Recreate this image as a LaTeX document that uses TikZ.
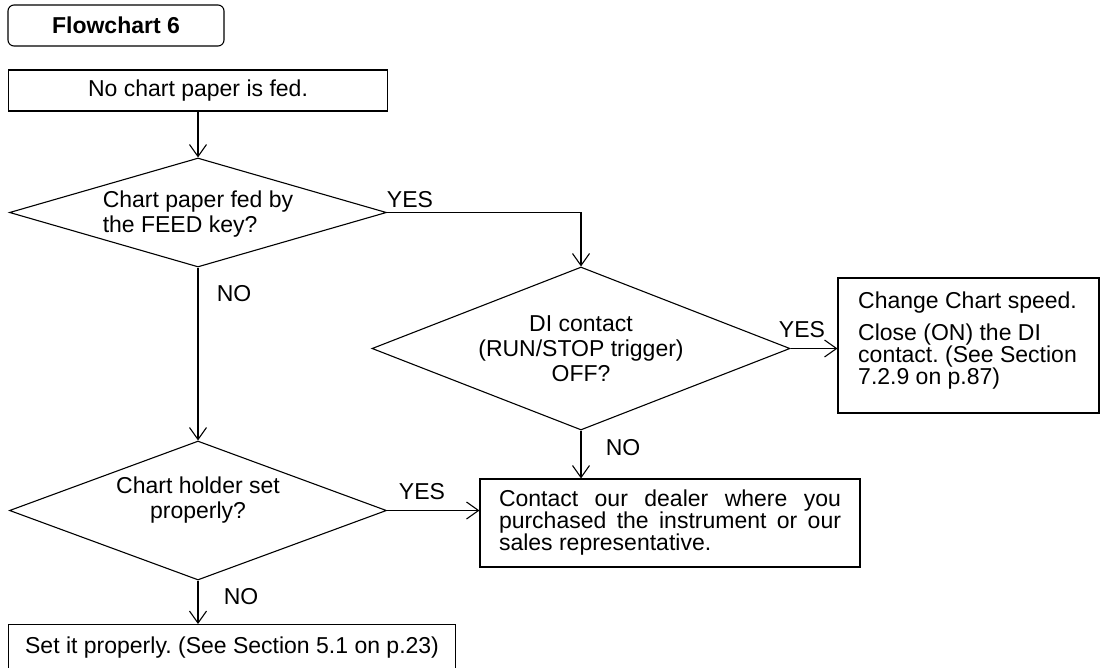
\documentclass[tikz,border=0pt]{standalone}
\usepackage{fontspec}
\setmainfont{Liberation Sans}
\usetikzlibrary{shapes.geometric,arrows.meta}
\frenchspacing
\begin{document}
\begin{tikzpicture}[x=1pt,y=-1pt,
  every node/.style={font=\fontsize{23}{25}\selectfont, inner sep=0pt},
  box/.style={draw, line width=1.1pt, rectangle},
  dia/.style={draw, line width=1.1pt, diamond, inner sep=0pt},
  conn/.style={line width=1.1pt, -{Straight Barb[length=12pt,width=17pt]}}
]
\useasboundingbox (0,0) rectangle (1105,667);

\node[box, rounded corners=6pt, minimum width=216pt, minimum height=41pt,
  font=\fontsize{23}{25}\selectfont\bfseries] (title) at (116,25.5) {Flowchart 6};

\node[box, minimum width=379pt, minimum height=41pt] (start) at (198,90.5) {No chart paper is fed.};

\node[dia, minimum width=377pt, minimum height=109pt] (d1) at (198,212.5) {};
\node[align=left] (t1) at (198,214) {Chart paper fed by\\the FEED key?};

\node[dia, minimum width=418pt, minimum height=163pt] (d2) at (581,348.5) {};
\node[align=center] (t2) at (581,349) {DI contact\\(RUN/STOP trigger)\\OFF?};

\node[dia, minimum width=377pt, minimum height=139pt] (d3) at (198,510.5) {};
\node[align=center] (t3) at (198,500) {Chart holder set\\properly?};

\node[box, minimum width=261pt, minimum height=135pt] (chg) at (968.5,345.5) {};
\node[align=left, anchor=north west, font=\fontsize{23}{22}\selectfont] (t4) at (858,292)
  {Change Chart speed.\\[10pt]Close (ON) the DI\\contact. (See Section\\7.2.9 on p.87)};

\node[box, minimum width=380pt, minimum height=88pt, text width=342pt, inner xsep=19pt,
  align=justify, font=\fontsize{23}{22}\selectfont] (contact) at (670,523)
  {Contact our dealer where you\linebreak purchased the instrument or our\linebreak sales representative.};

\node[box, minimum width=447pt, minimum height=46pt, anchor=north west] (set) at (8,624)
  {Set it properly. (See Section 5.1 on p.23)};

\node (y1) at (410,200) {YES};
\node (n1) at (234,294) {NO};
\node (y2) at (802,330) {YES};
\node (n2) at (623,448) {NO};
\node (y3) at (422,492) {YES};
\node (n3) at (241,597) {NO};

\draw[conn] (start) -- (d1);
\draw[conn] (d1.east) -| (d2.north);
\draw[conn] (d1.south) -- (d3.north);
\draw[conn] (d2.east) -- (d2.east -| chg.west);
\draw[conn] (d2.south) -- (d2.south |- contact.north);
\draw[conn] (d3.east) -- (d3.east -| contact.west);
\draw[conn] (d3.south) -- (d3.south |- set.north);
\end{tikzpicture}
\end{document}
